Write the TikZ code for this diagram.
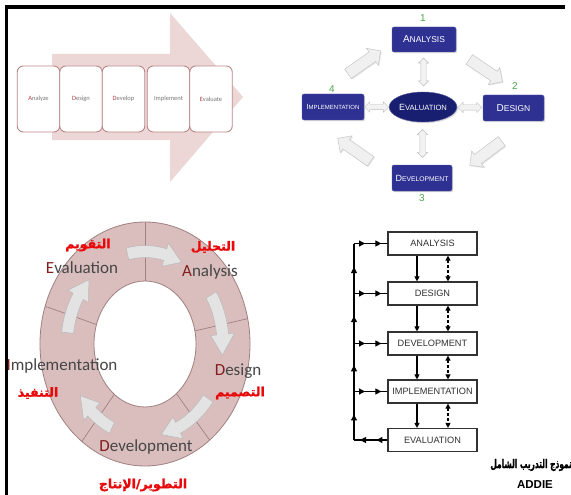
\documentclass[tikz,border=0pt]{standalone}
\usepackage{fontspec}
\setmainfont{Liberation Sans}
\newfontfamily\carlito{Carlito}
\newfontfamily\arabicfont[Script=Arabic,FakeBold=1.6]{DejaVu Sans Bold}
\TeXXeTstate=1
\usetikzlibrary{arrows.meta,shapes.arrows,shapes.geometric,shadows,calc,decorations.markings}

\definecolor{stageedge}{RGB}{188,135,135}
\definecolor{stagearrow}{RGB}{236,214,214}
\definecolor{stagered}{RGB}{175,60,60}
\definecolor{stagetext}{RGB}{120,120,120}
\definecolor{navybox}{RGB}{46,49,146}
\definecolor{navyoval}{RGB}{24,30,112}
\definecolor{stepgreen}{RGB}{76,165,76}
\definecolor{ringfill}{RGB}{218,190,190}
\definecolor{ringedge}{RGB}{160,128,128}
\definecolor{ringtext}{RGB}{70,70,70}
\definecolor{ringinitial}{RGB}{130,30,30}
\definecolor{arabred}{RGB}{232,10,10}
\definecolor{flowgray}{RGB}{50,50,50}

% small-caps style label: big initial, smaller rest
\newcommand\capsword[4]{{\fontsize{#3}{#3}\selectfont #1}{\fontsize{#4}{#4}\selectfont #2}}
\newcommand\ringword[2]{\textcolor{ringinitial}{#1}#2}
\newcommand\stageword[2]{\textcolor{stagered}{#1}#2}
\newcommand\arab[1]{\arabicfont\beginR #1\endR}

% curved block arrow on the ring: start angle, tip angle
\newcommand\ringarrow[2]{%
  \pgfmathsetmacro\headbase{#2-13}%
  \filldraw[ringarr] ($(rc)+(#1:84 and 98.5)$)
    arc[start angle=#1, end angle=\headbase, x radius=84, y radius=98.5]
    -- ($(rc)+(\headbase:90 and 104.5)$)
    -- ($(rc)+(#2:78 and 92.5)$)
    -- ($(rc)+(\headbase:66 and 80.5)$)
    -- ($(rc)+(\headbase:72 and 86.5)$)
    arc[start angle=\headbase, end angle=#1, x radius=72, y radius=86.5]
    -- cycle;}

\begin{document}
\begin{tikzpicture}[x=1pt,y=-1pt,
  stagebox/.style={draw=stageedge, fill=white, rounded corners=6pt, line width=0.9pt,
    minimum width=42.5pt, minimum height=66pt, inner sep=0pt,
    font=\carlito\fontsize{6.5}{7}\selectfont, text=stagetext},
  bluebox/.style={fill=navybox, draw=navybox!80!white, rounded corners=2pt, inner sep=1pt,
    text=white, drop shadow={shadow xshift=1.2pt, shadow yshift=-1.2pt, opacity=.3}},
  blueoval/.style={ellipse, fill=navyoval, draw=navyoval!70!white, inner sep=0pt,
    minimum width=60pt, minimum height=30pt, text=white,
    drop shadow={shadow xshift=1.2pt, shadow yshift=-1.2pt, opacity=.3}},
  stepnum/.style={text=stepgreen, font=\fontsize{10}{10}\selectfont, inner sep=0pt},
  bigarrow/.style={single arrow, fill=gray!12, draw=gray!45, line width=0.5pt,
    minimum height=40pt, minimum width=0pt, inner xsep=0pt, inner ysep=5.5pt,
    single arrow head extend=4.5pt,
    drop shadow={shadow xshift=1pt, shadow yshift=-1pt, opacity=.2}},
  twinarrow/.style={double arrow, fill=gray!10, draw=gray!50, line width=0.4pt,
    minimum width=0pt, inner xsep=0pt, inner ysep=2.5pt, double arrow head extend=2.5pt},
  ringarr/.style={fill=gray!22, draw=gray!55, line width=0.5pt},
  ringlabel/.style={font=\carlito\fontsize{17}{17}\selectfont, text=ringtext, inner sep=0pt},
  arablabel/.style={font=\fontsize{12.5}{12.5}\selectfont, text=arabred, inner sep=0pt},
  flowbox/.style={draw=flowgray, fill=white, line width=1.2pt, minimum width=89pt,
    minimum height=23pt, inner sep=0pt, text=flowgray, font=\fontsize{9.2}{9.2}\selectfont},
  flowarrow/.style={draw=black, line width=1.1pt, -{Triangle[length=5pt,width=5pt]}},
  backarrow/.style={draw=black, line width=1.1pt, densely dashed,
    {Triangle[length=5pt,width=5pt]}-{Triangle[length=5pt,width=5pt]}},
  headpair/.style={draw=black, line width=1.1pt, postaction={decorate},
    decoration={markings,
      mark=at position 0.33 with {\arrow{Triangle[length=6pt,width=6pt]}},
      mark=at position 0.82 with {\arrow{Triangle[length=6pt,width=6pt]}}}},
  headsup/.style={draw=black, line width=1.1pt, postaction={decorate},
    decoration={markings,
      mark=at position 0.13 with {\arrow{Triangle[length=6pt,width=6pt]}},
      mark=at position 0.38 with {\arrow{Triangle[length=6pt,width=6pt]}},
      mark=at position 0.63 with {\arrow{Triangle[length=6pt,width=6pt]}},
      mark=at position 0.88 with {\arrow{Triangle[length=6pt,width=6pt]}}}}
]
\useasboundingbox (0,0) rectangle (571,495);
\fill[white] (0,0) rectangle (571,495);

% page frame
\draw[line width=3pt] (6.5,5.5) -- (6.5,495);
\draw[line width=3.5pt] (5,7) -- (565,7);

% ---------- linear ADDIE: pale arrow with five stages ----------
\fill[stagearrow] (52,54) -- (170,54) -- (170,13) -- (243,97) -- (170,182) -- (170,140) -- (52,140) -- cycle;
\node[stagebox] (s1) at (38.5,99) {\stageword{A}{nalyze}};
\node[stagebox] (s2) at (81,99) {\stageword{D}{esign}};
\node[stagebox] (s3) at (123.5,99) {\stageword{D}{evelop}};
\node[stagebox] (s4) at (168.5,99) {Implement};
\node[stagebox] (s5) at (211,99) {\stageword{E}{valuate}};

% ---------- cycle with central evaluation ----------
\node[bluebox, minimum width=64pt, minimum height=25pt] (an) at (424,39.5) {\capsword{A}{NALYSIS}{10}{8.5}};
\node[bluebox, minimum width=61pt, minimum height=26pt] (ds) at (513.5,108) {\capsword{D}{ESIGN}{10}{8.5}};
\node[bluebox, minimum width=60pt, minimum height=26pt] (dv) at (422,178) {\capsword{D}{EVELOPMENT}{9}{6.8}};
\node[bluebox, minimum width=62pt, minimum height=26pt] (im) at (333,107) {\capsword{I}{MPLEMENTATION}{7.5}{6}};
\node[blueoval] (ev) at (423,107) {\capsword{E}{VALUATION}{9}{7.6}};

\node[stepnum] (n1) at (423,18) {1};
\node[stepnum] (n2) at (515,86) {2};
\node[stepnum] (n3) at (422,198) {3};
\node[stepnum] (n4) at (332,89) {4};

\node[bigarrow, rotate=35] (c1) at (362,64) {};
\node[bigarrow, rotate=-34] (c2) at (483.5,69) {};
\node[bigarrow, rotate=-143] (c3) at (488,151.5) {};
\node[bigarrow, rotate=145] (c4) at (356.5,151.5) {};

\node[twinarrow, rotate=90, minimum height=28pt] (t1) at ($(an.south)!0.5!(ev.north)$) {};
\node[twinarrow, rotate=90, minimum height=28pt] (t2) at ($(ev.south)!0.5!(dv.north)$) {};
\node[twinarrow, minimum height=24pt] (t3) at ($(ev.east)!0.5!(ds.west)$) {};
\node[twinarrow, minimum height=24pt] (t4) at ($(im.east)!0.5!(ev.west)$) {};

% ---------- ring ----------
\coordinate (rc) at (145,344);
\filldraw[fill=ringfill, draw=ringedge, line width=0.8pt, even odd rule]
  (rc) ellipse[x radius=105, y radius=122]
  (rc) ellipse[x radius=51, y radius=63];
\foreach \a in {-90,-12,52,127,198}
  \draw[ringedge, line width=0.7pt] ($(rc)+(\a:51 and 63)$) -- ($(rc)+(\a:105 and 122)$);

\ringarrow{-103}{-62}
\ringarrow{-32}{7}
\ringarrow{36}{78}
\ringarrow{115}{146}
\ringarrow{187}{224}

\node[ringlabel] (rev) at (82,268) {\ringword{E}{valuation}};
\node[ringlabel] (ran) at (210,272) {\ringword{A}{nalysis}};
\node[ringlabel] (rds) at (238,371) {\ringword{D}{esign}};
\node[ringlabel] (rdv) at (146,447) {\ringword{D}{evelopment}};
\node[ringlabel] (rim) at (62,366) {\ringword{I}{mplementation}};

\node[arablabel] (aev) at (88,245) {\arab{التقويم}};
\node[arablabel] (aan) at (213,247) {\arab{التحليل}};
\node[arablabel] (ads) at (240,393) {\arab{التصميم}};
\node[arablabel] (aim) at (38,393) {\arab{التنفيذ}};
\node[arablabel] (adv) at (143,485) {\arab{التطوير/الإنتاج}};

% ---------- waterfall with feedback ----------
\node[flowbox] (fa) at (432.5,243.5) {ANALYSIS};
\node[flowbox] (fd) at (432.5,293.5) {DESIGN};
\node[flowbox] (fv) at (432.5,343.5) {DEVELOPMENT};
\node[flowbox] (fi) at (432.5,391.5) {IMPLEMENTATION};
\node[flowbox] (fe) at (432.5,440) {EVALUATION};
\coordinate (loop) at (354,0);

\foreach \u/\v in {fa/fd,fd/fv,fv/fi,fi/fe}{
  \draw[flowarrow] ([xshift=-15.5pt]\u.south) -- ([xshift=-15.5pt]\v.north);
  \draw[backarrow] ([xshift=15.5pt]\u.south) -- ([xshift=15.5pt]\v.north);
}
\draw[headsup] (fe.west -| loop) -- (fa.west -| loop);
\foreach \b in {fa,fd,fv,fi}
  \draw[headpair] (\b.west -| loop) -- (\b.west);
\draw[headpair] (fe.west) -- (fe.west -| loop);

\node[font=\fontsize{12}{12}\selectfont, inner sep=0pt, anchor=east] (title) at (572,465)
  {\scalebox{0.62}[1]{\arab{نموذج التدريب الشامل}}};
\node[font=\bfseries\fontsize{11.5}{11.5}\selectfont, inner sep=0pt] (addie) at (535,485) {ADDIE};
\end{tikzpicture}
\end{document}
